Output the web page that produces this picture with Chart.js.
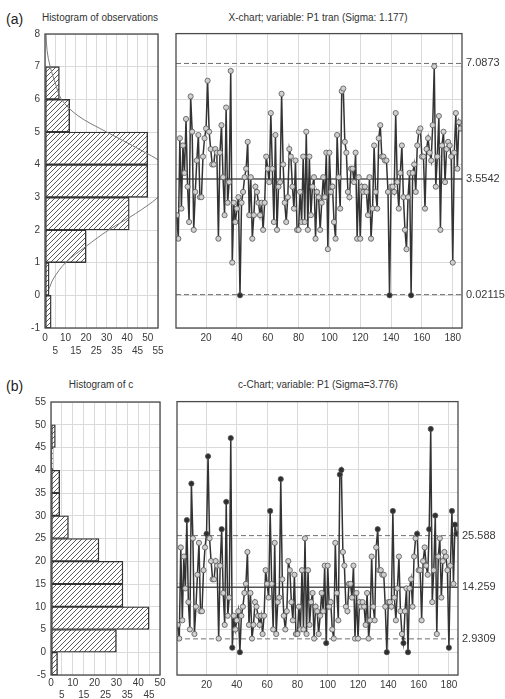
<!DOCTYPE html>
<html><head><meta charset="utf-8">
<script src="https://cdn.jsdelivr.net/npm/chart.js@4/dist/chart.umd.min.js"></script>
<style>
body{margin:0;background:#fff;width:505px;height:699px;overflow:hidden;position:relative;font-family:"Liberation Sans",Arial,sans-serif;}
canvas{position:absolute;}
.t{position:absolute;font-size:10px;color:#333;white-space:nowrap;transform:translate(-50%,-50%);}
.lab{position:absolute;font-size:14px;color:#222;transform:translateY(-50%);}
</style></head><body>
<div class="lab" style="left:6px;top:19px">(a)</div>
<div class="t" style="left:100px;top:17px">Histogram of observations</div>
<div class="t" style="left:318px;top:17px">X-chart; variable: P1 tran (Sigma: 1.177)</div>
<div class="lab" style="left:6px;top:386px">(b)</div>
<div class="t" style="left:101px;top:384px">Histogram of c</div>
<div class="t" style="left:318px;top:384px">c-Chart; variable: P1 (Sigma=3.776)</div>
<canvas id="ha" width="168" height="340" style="left:0;top:23px"></canvas>
<canvas id="xc" width="337" height="340" style="left:168px;top:23px"></canvas>
<canvas id="hb" width="168" height="308" style="left:0;top:391px"></canvas>
<canvas id="cc" width="337" height="308" style="left:168px;top:391px"></canvas>
<script>
// ---------- data ----------
const histABinMid = [-0.5,0.5,1.5,2.5,3.5,4.5,5.5,6.5,7.5];
const histACount  = [3,2,20,41,50,50,12,7,0];
const curveAValue = [8,7.5,7,6.5,6,5.5,5,4.5,4,3.5,3,2.5,2,1.5,1,0.5,0.2];
const curveACount = [0.5,1,2.5,5,8,16,30,45,58,62,55,44,31,20,10,4,2];

const histBBinMid = [-2.5,2.5,7.5,12.5,17.5,22.5,27.5,32.5,37.5,42.5,47.5,52.5];
const histBCount  = [3,30,45,33,33,22,8,4,4,1,2,0];

const xValues = [
2.45,1.73,4.80,2.65,4.58,3.74,5.39,3.32,2.24,6.08,5.00,2.00,3.16,4.12,4.90,3.00,3.00,4.24,4.80,5.10,
6.56,5.00,4.47,4.00,4.00,4.47,4.36,1.73,4.36,5.20,3.61,2.45,5.74,2.83,3.46,6.86,1.00,2.83,2.24,2.65,
3.00,0.00,2.83,3.16,3.61,3.87,4.69,2.45,3.61,1.73,2.45,3.32,3.16,2.83,2.45,2.83,2.00,2.83,4.24,3.87,
3.46,5.57,3.87,2.24,4.90,2.00,3.32,3.46,6.16,4.00,2.83,2.24,3.00,4.47,4.24,3.32,2.65,4.12,2.00,2.00,
3.16,2.24,4.24,2.24,5.00,2.00,4.24,2.45,3.32,3.61,1.73,3.16,3.00,2.00,2.83,3.61,3.00,4.36,1.41,4.36,
3.16,3.32,2.24,1.73,4.90,3.61,2.65,6.24,6.32,4.69,4.36,3.16,3.00,3.87,3.87,3.46,4.36,1.73,3.61,1.73,
3.32,3.16,3.32,3.16,2.45,3.61,1.73,2.65,4.58,3.16,2.65,4.80,5.20,4.24,4.24,4.12,4.12,3.16,0.00,3.32,
3.32,3.16,5.57,3.46,2.65,3.74,4.58,3.00,2.00,1.41,3.00,3.74,0.00,3.74,4.00,3.16,4.58,5.00,5.10,4.24,
4.24,2.65,4.47,4.80,4.36,4.12,5.20,7.00,3.32,4.24,5.48,2.00,4.58,5.00,3.46,4.47,4.69,4.58,4.24,1.00,
4.36,5.57,3.87,5.29,5.10];

const cValues = [
6,3,23,7,21,14,29,11,5,37,25,4,10,17,24,9,9,18,23,26,
43,25,20,16,16,20,19,3,19,27,13,6,33,8,12,47,1,8,5,7,
9,0,8,10,13,15,22,6,13,3,6,11,10,8,6,8,4,8,18,15,
12,31,15,5,24,4,11,12,38,16,8,5,9,20,18,11,7,17,4,4,
10,5,18,5,25,4,18,6,11,13,3,10,9,4,8,13,9,19,2,19,
10,11,5,3,24,13,7,39,40,22,19,10,9,15,15,12,19,3,13,3,
11,10,11,10,6,13,3,7,21,10,7,23,27,18,18,17,17,10,0,11,
11,10,31,12,7,14,21,9,4,2,9,14,0,14,16,10,21,25,26,18,
18,7,20,23,19,17,27,49,11,18,30,4,21,25,12,20,22,21,18,1,
19,31,15,28,26];

const sampleNo = Array.from({length: cValues.length}, (_, k) => k + 1);
const runTicks = [20,40,60,80,100,120,140,160,180];

const xLimits = [0.02115, 3.5542, 7.0873];
const xLimitLabels = ['0.02115','3.5542','7.0873'];
const cLimits = [2.9309, 14.259, 25.588];
const cLimitLabels = ['2.9309','14.259','25.588'];

// ---------- styling helpers ----------
Chart.defaults.font.family = '"Liberation Sans", Arial, sans-serif';
Chart.defaults.font.size = 10;
Chart.defaults.color = '#3a3a3a';
Chart.defaults.animation = false;

const GRID = '#dadada';

function hatch(){
  const c=document.createElement('canvas');c.width=5;c.height=5;
  const g=c.getContext('2d');
  g.fillStyle='#fff';g.fillRect(0,0,5,5);
  g.strokeStyle='#4a4a4a';g.lineWidth=0.9;
  g.beginPath();
  g.moveTo(0,5);g.lineTo(5,0);
  g.moveTo(-1,1);g.lineTo(1,-1);
  g.moveTo(4,6);g.lineTo(6,4);
  g.stroke();
  return g.createPattern(c,'repeat');
}

const framePlugin = {
  id:'frame',
  afterDraw(chart){
    const a=chart.chartArea, ctx=chart.ctx;
    ctx.save();ctx.strokeStyle='#4a4a4a';ctx.lineWidth=1.3;
    ctx.strokeRect(a.left,a.top,a.right-a.left,a.bottom-a.top);
    ctx.restore();
  }
};

const limitsPlugin = {
  id:'limits',
  beforeDatasetsDraw(chart){
    const lim = chart.options.plugins.limits;
    if(!lim || !lim.values) return;
    const a=chart.chartArea, ctx=chart.ctx, y=chart.scales.y;
    ctx.save();
    lim.values.forEach((v,i)=>{
      const py=y.getPixelForValue(v);
      ctx.beginPath();
      if(i===1){ctx.setLineDash([]);ctx.strokeStyle='#555';ctx.lineWidth=1.5;}
      else {ctx.setLineDash([5,3]);ctx.strokeStyle='#707070';ctx.lineWidth=1;}
      ctx.moveTo(a.left,py);ctx.lineTo(a.right,py);ctx.stroke();
    });
    ctx.restore();
  }
};
Chart.register(framePlugin, limitsPlugin);

function stagger(v){ return (Math.round(v) % 10 === 0) ? [String(v),' '] : [' ',String(v)]; }

function histChart(id, mids, counts, yMin, yMax, yStep, xMax, yW, padRight, xH, xPad, lh, curve){
  const datasets=[{
    type:'bar', indexAxis:'y',
    data: mids.map((m,i)=>({x:counts[i], y:m})),
    backgroundColor: hatch(), borderColor:'#333', borderWidth:1.4, borderSkipped:false,
    barPercentage:1, categoryPercentage:1, order:2
  }];
  if(curve){
    datasets.push({
      type:'line', data: curve.values.map((v,i)=>({x:curve.counts[i], y:v})),
      borderColor:'#7a7a7a', borderWidth:1, pointRadius:0, tension:0.35, fill:false, order:1
    });
  }
  return new Chart(document.getElementById(id),{
    type:'bar',
    data:{datasets},
    options:{
      responsive:false, animation:false,
      layout:{padding:{top:10,right:padRight,left:0,bottom:0}},
      plugins:{legend:{display:false},tooltip:{enabled:false}},
      scales:{
        x:{type:'linear',min:0,max:xMax,offset:false,
           grid:{color:GRID,drawTicks:false,offset:false},border:{display:false},
           ticks:{stepSize:5,autoSkip:false,maxRotation:0,padding:xPad,callback:stagger,font:{size:10,lineHeight:lh}},
           afterFit(s){s.height=xH;}},
        y:{type:'linear',min:yMin,max:yMax,offset:false,
           grid:{color:GRID,drawTicks:false,offset:false},border:{display:false},
           ticks:{stepSize:yStep,padding:5,autoSkip:false},
           afterFit(s){s.width=yW;}}
      }
    }
  });
}

function runChart(id, values, limits, labels, yMin, yMax, yStep, yW, rW, xH){
  const sorted = limits.slice();
  const ptColor = ctx => { const v=ctx.parsed.y; return (v>limits[2]||v<limits[0])?'#2e2e2e':'#cfcfcf'; };
  return new Chart(document.getElementById(id),{
    type:'line',
    data:{datasets:[{
      data: values.map((v,i)=>({x:sampleNo[i], y:v})),
      borderColor:'#333', borderWidth:1.5, tension:0,
      pointRadius:2.6, pointBorderWidth:0.8, pointBorderColor:'#555',
      pointBackgroundColor: ptColor
    }]},
    options:{
      responsive:false, animation:false,
      layout:{padding:{top:10,right:0,left:0,bottom:0}},
      plugins:{legend:{display:false},tooltip:{enabled:false},limits:{values:limits}},
      scales:{
        x:{type:'linear',min:0.5,max:186,offset:false,
           grid:{color:GRID,drawTicks:false},border:{display:false},
           ticks:{autoSkip:false,maxRotation:0,padding:4},
           afterBuildTicks(s){s.ticks=runTicks.map(v=>({value:v}));},
           afterFit(s){s.height=xH;}},
        y:{type:'linear',position:'left',min:yMin,max:yMax,
           grid:{color:GRID,drawTicks:false},border:{display:false},
           ticks:{stepSize:yStep,display:false},
           afterFit(s){s.width=yW;}},
        yr:{type:'linear',position:'right',min:yMin,max:yMax,
           grid:{display:false,drawTicks:false},border:{display:false},
           ticks:{padding:4,autoSkip:false,callback:(v,i)=>labels[i],font:{size:11}},
           afterBuildTicks(s){s.ticks=sorted.map(v=>({value:v}));},
           afterFit(s){s.width=rW;}}
      }
    }
  });
}

histChart('ha', histABinMid, histACount, -1, 8, 1, 55, 45, 10, 35, 4, 1.3, {values:curveAValue, counts:curveACount});
runChart('xc', xValues, xLimits, xLimitLabels, -1, 8, 1, 8, 43, 35);
histChart('hb', histBBinMid, histBCount, -5, 55, 5, 50, 51, 8, 24, 2, 1.2, null);
runChart('cc', cValues, cLimits, cLimitLabels, -5, 55, 5, 9, 47, 24);
</script>
</body></html>
